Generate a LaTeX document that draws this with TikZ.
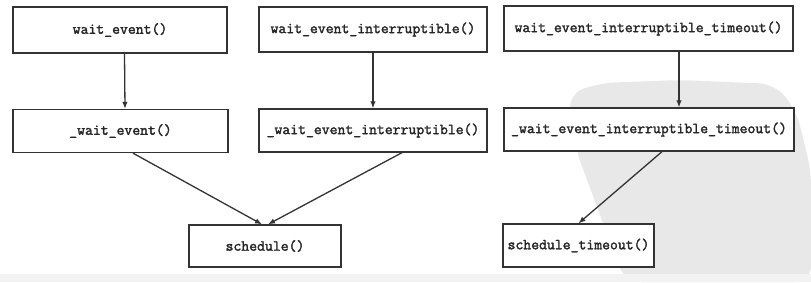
\documentclass[tikz,border=0pt]{standalone}
\usepackage{fontspec}
\setmonofont{Latin Modern Mono}[FakeBold=2]
\usetikzlibrary{arrows.meta}
\begin{document}
\begin{tikzpicture}[x=1pt,y=-1pt,
  fn/.style={draw=black!80, line width=1.3pt, fill=white, inner sep=0pt,
    font=\fontsize{15.3}{17}\ttfamily, text=black!85},
  call/.style={draw=black!80, line width=1.3pt,
    -{Latex[length=7pt,width=5.5pt]}}]
  \useasboundingbox (0,0) rectangle (811,282);
  % paper background with a faint seal stamp and the lower margin
  \fill[white] (0,0) rectangle (811,282);
  \fill[black!9, rounded corners=16pt]
    (568,94) -- (600,83) -- (680,80) -- (775,84) -- (796,110) -- (811,170)
    -- (811,282) -- (625,282) -- (600,215) -- (576,150) -- cycle;
  \fill[black!5] (0,274) rectangle (811,282);

  % entry points
  \node[fn, minimum width=214pt, minimum height=46pt] (we)   at (120,30)    {wait\_event()};
  \node[fn, minimum width=228pt, minimum height=45pt] (wei)  at (373,29.5)  {wait\_event\_interruptible()};
  \node[fn, minimum width=289pt, minimum height=45pt] (weit) at (648.5,28.5){wait\_event\_interruptible\_timeout()};
  % internal helpers
  \node[fn, minimum width=215pt, minimum height=43pt] (iwe)   at (120.5,131)  {\_wait\_event()};
  \node[fn, minimum width=228pt, minimum height=43pt] (iwei)  at (373,130.5)  {\_wait\_event\_interruptible()};
  \node[fn, minimum width=290pt, minimum height=43pt] (iweit) at (649,129.5)  {\_wait\_event\_interruptible\_timeout()};
  % scheduler
  \node[fn, minimum width=152pt, minimum height=42pt] (sch)  at (265,246)   {schedule()};
  \node[fn, minimum width=151pt, minimum height=43pt] (scht) at (578.5,245.5) {schedule\_timeout()};

  \draw[call] ([xshift=4.5pt]we.south)    -- ([xshift=4.5pt]iwe.north);
  \draw[call] (wei.south)               -- (iwei.north);
  \draw[call] ([xshift=30.5pt]weit.south) -- ([xshift=30pt]iweit.north);
  \draw[call] ([xshift=12.5pt]iwe.south) -- ([xshift=-3pt]sch.north);
  \draw[call] ([xshift=29pt]iwei.south) -- ([xshift=3pt]sch.north);
  \draw[call] ([xshift=13pt]iweit.south) -- (scht.north);
\end{tikzpicture}
\end{document}
